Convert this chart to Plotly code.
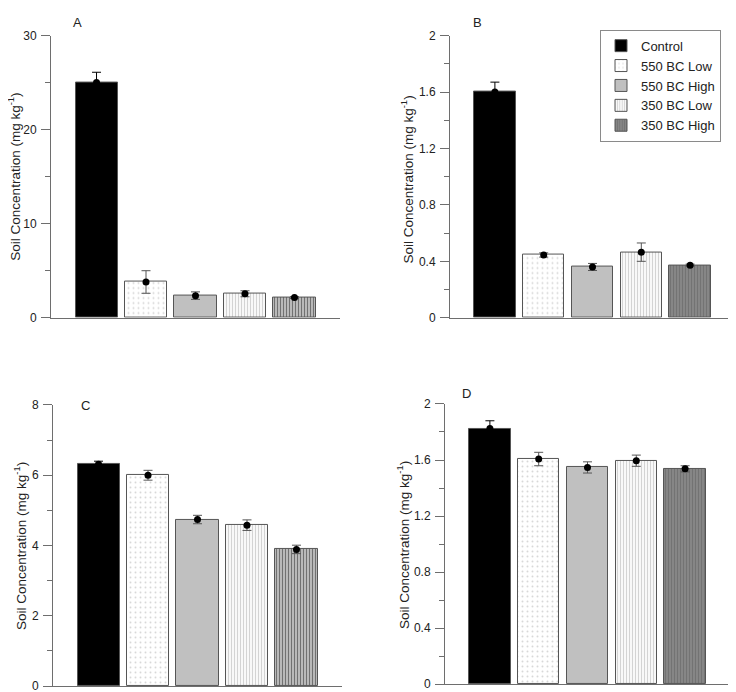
import plotly.graph_objects as go

categories = ["Control", "550 BC Low", "550 BC High", "350 BC Low", "350 BC High"]

a_mean = [25.0, 3.8, 2.35, 2.55, 2.15]
a_err = [1.1, 1.2, 0.4, 0.32, 0.1]
b_mean = [1.60, 0.445, 0.36, 0.465, 0.373]
b_err = [0.07, 0.015, 0.025, 0.065, 0.007]
c_mean = [6.31, 6.0, 4.74, 4.58, 3.89]
c_err = [0.09, 0.14, 0.12, 0.15, 0.12]
d_mean = [1.825, 1.607, 1.547, 1.595, 1.537]
d_err = [0.055, 0.048, 0.04, 0.04, 0.022]

panel_letters = ["A", "B", "C", "D"]
y_title = "Soil Concentration (mg kg<sup>-1</sup>)"
y_ranges = [[0, 30], [0, 2], [0, 8], [0, 2]]
y_dticks = [10, 0.4, 2, 0.4]
y_minor = [5, 0.2, 1, 0.2]

W, H = 736, 692
# pixel boxes: (left, right, top, bottom)
boxes = [(43, 332, 21, 309), (442, 727, 21, 309), (45, 334, 398, 685), (437, 722, 397, 683)]
letter_pos = [(69, 8), (469, 8), (77, 399), (458, 386)]
# right edge x and centre y of the rotated axis titles
title_pos = [(16, 165), (409, 168), (22, 542), (405, 541)]

def px(x):
    return x / W

def py(y):
    return 1 - y / H

def styles(panel):
    dark = panel in (0, 2)
    return [
        dict(color="black"),
        dict(color="white", pattern=dict(shape=".", fgcolor="#b0b0b0", bgcolor="white", size=5, solidity=0.12)),
        dict(color="#c0c0c0"),
        dict(color="white", pattern=dict(shape="|", fgcolor="#a8a8a8", bgcolor="white", size=3, solidity=0.45)),
        (dict(color="white", pattern=dict(shape="|", fgcolor="#111111", bgcolor="#d0d0d0", size=3, solidity=0.5))
         if dark else
         dict(color="#888888", pattern=dict(shape="|", fgcolor="#5a5a5a", bgcolor="#8c8c8c", size=3, solidity=0.5))),
    ]

data = [(a_mean, a_err), (b_mean, b_err), (c_mean, c_err), (d_mean, d_err)]

fig = go.Figure()
layout = {}
for p, (means, errs) in enumerate(data):
    ax = "" if p == 0 else str(p + 1)
    xref, yref = "x" + ax, "y" + ax
    st = styles(p)
    for i, cat in enumerate(categories):
        m = dict(st[i])
        m["line"] = dict(color="#555555", width=1)
        fig.add_trace(go.Bar(
            x=[cat], y=[means[i]], name=cat, marker=m, width=0.85,
            xaxis=xref, yaxis=yref, showlegend=(p == 1),
        ))
    for i, cat in enumerate(categories):
        fig.add_trace(go.Scatter(
            x=[cat], y=[means[i]], mode="markers",
            marker=dict(color="black", size=7),
            error_y=dict(type="data", array=[errs[i]], visible=True,
                         color="black" if i == 0 else "#555555", thickness=1, width=4.5),
            xaxis=xref, yaxis=yref, showlegend=False,
        ))
    l, r, t, b = boxes[p]
    layout["xaxis" + ax] = dict(
        domain=[px(l), px(r)], type="category", categoryarray=categories,
        range=[-0.92, 4.92], showticklabels=False, ticks="", showgrid=False,
        showline=True, linecolor="#6e6e6e", linewidth=1, zeroline=False,
        anchor=yref, fixedrange=True,
    )
    layout["yaxis" + ax] = dict(
        domain=[py(b), py(t)], range=y_ranges[p], dtick=y_dticks[p], tick0=0,
        ticks="outside", ticklen=9, tickcolor="#6e6e6e", tickwidth=1,
        minor=dict(dtick=y_minor[p], tick0=0, ticks="outside", ticklen=5, tickcolor="#6e6e6e", showgrid=False),
        showgrid=False, showline=True, linecolor="#6e6e6e", linewidth=1, zeroline=False,
        tickfont=dict(size=12, color="#222222"), ticklabelstandoff=2,
        anchor=xref,
    )

annotations = []
for p, letter in enumerate(panel_letters):
    x, y = letter_pos[p]
    annotations.append(dict(
        text=letter, x=px(x), y=py(y), xref="paper", yref="paper",
        xanchor="center", yanchor="middle", showarrow=False,
        font=dict(size=13, color="#222222"),
    ))
    tx, ty = title_pos[p]
    annotations.append(dict(
        text=y_title, x=px(tx), y=py(ty), xref="paper", yref="paper",
        xanchor="right", yanchor="middle", showarrow=False, textangle=-90,
        borderpad=0, font=dict(size=13.5, color="#222222"),
    ))

fig.update_layout(
    width=W, height=H, margin=dict(l=0, r=0, t=0, b=0),
    paper_bgcolor="white", plot_bgcolor="white",
    barmode="overlay", bargap=0,
    font=dict(family="Liberation Sans, Arial, sans-serif", color="#222222"),
    legend=dict(x=px(592), xanchor="left", y=py(15), yanchor="top",
                bordercolor="#8a8a8a", borderwidth=1, bgcolor="white",
                font=dict(size=13, color="#222222"), tracegroupgap=0,
                itemwidth=30, traceorder="normal"),
    annotations=annotations,
    **layout,
)

fig.write_html("out.html")
